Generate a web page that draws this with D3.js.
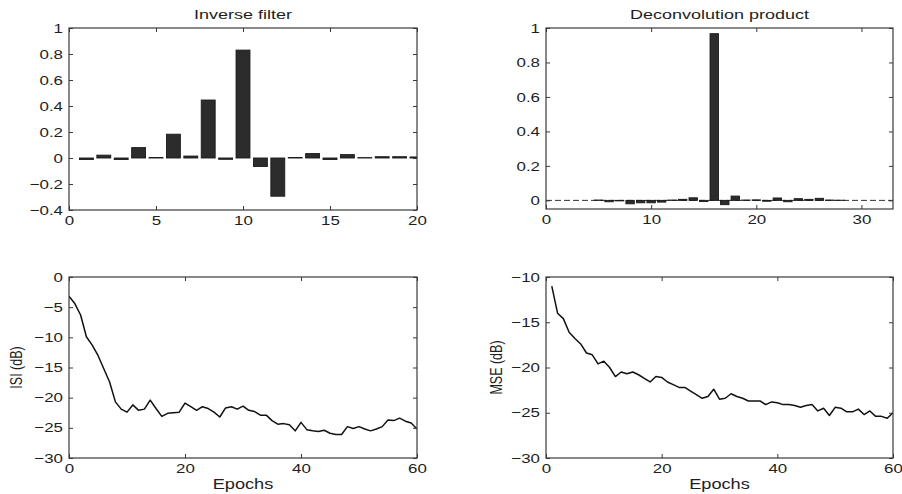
<!DOCTYPE html>
<html>
<head>
<meta charset="utf-8">
<script src="https://cdn.jsdelivr.net/npm/d3@7"></script>
<style>
  body { margin: 0; background: #fff; }
  svg { display: block; font-family: "Liberation Sans", Arial, Helvetica, sans-serif; }
</style>
</head>
<body>
<svg id="fig" width="902" height="494"></svg>
<script>
// ---- Inverse filter taps ----
const filterTaps = [1, 2, 3, 4, 5, 6, 7, 8, 9, 10, 11, 12, 13, 14, 15, 16, 17, 18, 19, 20];
const filterValues = [-0.012, 0.022, -0.012, 0.08, 0.004, 0.183, 0.015, 0.446, -0.01, 0.83,
                      -0.065, -0.294, 0.004, 0.034, -0.012, 0.026, 0.003, 0.01, 0.01, 0.008];

// ---- Deconvolution product (filter * channel) ----
const deconvLags = [1, 2, 3, 4, 5, 6, 7, 8, 9, 10, 11, 12, 13, 14, 15, 16,
                    17, 18, 19, 20, 21, 22, 23, 24, 25, 26, 27, 28, 29, 30, 31, 32];
const deconvValues = [0, 0, 0, 0, 0.002, -0.008, -0.003, -0.02, -0.014, -0.014, -0.01, 0.002,
                      0.006, 0.015, -0.007, 0.967, -0.025, 0.025, 0.002, 0.003, -0.005, 0.014,
                      -0.008, 0.01, 0.006, 0.012, 0.002, 0.001, 0, 0, 0, 0];

// ---- Learning curves ----
const isiStartEpoch = 0;
const isiValues = [-3.2, -4.4, -6.3, -9.9, -11.3, -13.0, -15.2, -17.4, -20.7, -21.9,
                   -22.4, -21.2, -22.1, -21.9, -20.4, -21.8, -23.1, -22.6, -22.5, -22.4,
                   -20.9, -21.5, -22.1, -21.5, -21.8, -22.4, -23.2, -21.7, -21.5, -21.9,
                   -21.4, -22.1, -22.3, -22.9, -22.9, -23.8, -24.4, -24.3, -24.5, -25.5,
                   -24.1, -25.3, -25.5, -25.6, -25.4, -25.9, -26.1, -26.1, -24.8, -25.1,
                   -24.8, -25.2, -25.5, -25.2, -24.8, -23.7, -23.8, -23.4, -23.9, -24.2, -25.2];

const mseStartEpoch = 1;
const mseValues = [-11.0, -14.0, -14.6, -16.1, -16.8, -17.4, -18.4, -18.6, -19.6, -19.3,
                   -20.0, -21.0, -20.5, -20.7, -20.5, -20.8, -21.2, -21.6, -21.0, -21.1,
                   -21.6, -21.9, -22.2, -22.2, -22.6, -23.0, -23.4, -23.2, -22.4, -23.5,
                   -23.4, -22.9, -23.2, -23.4, -23.7, -23.7, -23.7, -24.1, -23.8, -23.9,
                   -24.1, -24.1, -24.2, -24.4, -24.2, -24.1, -24.8, -24.5, -25.3, -24.4,
                   -24.5, -24.9, -24.9, -24.6, -25.2, -24.8, -25.4, -25.4, -25.6, -25.0];

// ---- Tick values ----
const filterXTicks = [0, 5, 10, 15, 20];
const filterYTicks = [-0.4, -0.2, 0, 0.2, 0.4, 0.6, 0.8, 1];
const deconvXTicks = [0, 10, 20, 30];
const deconvYTicks = [0, 0.2, 0.4, 0.6, 0.8, 1];
const epochTicks = [0, 20, 40, 60];
const isiYTicks = [-30, -25, -20, -15, -10, -5, 0];
const mseYTicks = [-30, -25, -20, -15, -10];

const svg = d3.select("#fig");
const INK = "#1e1e1e";
const FRAME = "#3a3a3a";
const WIDEN = 1.3;     // horizontal widening of the axis lettering
const fmt = d3.format("~g");

function widenText(sel, k) {
  sel.each(function () {
    const t = d3.select(this);
    const x = +t.attr("x") || 0;
    t.attr("x", x / k).attr("transform", `scale(${k},1)`);
  });
}

let clipCount = 0;
function makePanel(box, xDomain, yDomain) {
  const x = d3.scaleLinear().domain(xDomain).range([box.left, box.right]);
  const y = d3.scaleLinear().domain(yDomain).range([box.bottom, box.top]);
  const id = "clip" + (clipCount++);
  svg.append("clipPath").attr("id", id)
    .append("rect")
    .attr("x", box.left).attr("y", box.top)
    .attr("width", box.right - box.left).attr("height", box.bottom - box.top);
  const g = svg.append("g");
  const plot = g.append("g").attr("clip-path", `url(#${id})`);
  return { box, x, y, g, plot };
}

function drawAxes(p, xTicks, yTicks) {
  const { box, x, y, g } = p;
  const tick = 4;
  const style = sel => {
    sel.select(".domain").remove();
    sel.selectAll(".tick line").attr("stroke", FRAME).attr("stroke-width", 1);
    sel.selectAll(".tick text").attr("fill", INK).style("font-size", "13px");
  };
  g.append("g").attr("transform", `translate(0,${box.bottom})`)
    .call(d3.axisBottom(x).tickValues(xTicks).tickFormat(fmt).tickSizeInner(-tick).tickSizeOuter(0).tickPadding(5.5))
    .call(style).call(s => widenText(s.selectAll(".tick text"), WIDEN));
  g.append("g").attr("transform", `translate(${box.left},0)`)
    .call(d3.axisLeft(y).tickValues(yTicks).tickFormat(fmt).tickSizeInner(-tick).tickSizeOuter(0).tickPadding(6))
    .call(style).call(s => widenText(s.selectAll(".tick text"), WIDEN));
  g.append("g").attr("transform", `translate(0,${box.top})`)
    .call(d3.axisTop(x).tickValues(xTicks).tickFormat("").tickSizeInner(-tick).tickSizeOuter(0))
    .call(style);
  g.append("g").attr("transform", `translate(${box.right},0)`)
    .call(d3.axisRight(y).tickValues(yTicks).tickFormat("").tickSizeInner(-tick).tickSizeOuter(0))
    .call(style);
  g.append("rect")
    .attr("x", box.left).attr("y", box.top)
    .attr("width", box.right - box.left).attr("height", box.bottom - box.top)
    .attr("fill", "none").attr("stroke", FRAME).attr("stroke-width", 1.2);
}

function title(p, text) {
  const cx = (p.box.left + p.box.right) / 2;
  p.g.append("text")
    .attr("transform", `translate(${cx},18.5) scale(1.5,1)`)
    .attr("text-anchor", "middle").attr("fill", INK)
    .style("font-size", "12px").text(text);
}

function xLabel(p, text) {
  const cx = (p.box.left + p.box.right) / 2;
  p.g.append("text")
    .attr("transform", `translate(${cx},489) scale(${WIDEN},1)`)
    .attr("text-anchor", "middle").attr("fill", INK)
    .style("font-size", "14px").text(text);
}

function yLabel(p, text, xPos) {
  const cy = (p.box.top + p.box.bottom) / 2;
  // rotated; the second scale factor thickens the glyphs horizontally on screen
  p.g.append("text")
    .attr("transform", `translate(${xPos},${cy}) rotate(-90) scale(1,1.25)`)
    .attr("text-anchor", "middle").attr("fill", INK)
    .style("font-size", "12.5px").text(text);
}

function drawBars(p, cats, vals, width) {
  const { x, y, plot } = p;
  plot.selectAll("rect.bar")
    .data(cats.map((c, i) => ({ c, v: vals[i] })).filter(d => d.v !== 0))
    .join("rect").attr("class", "bar")
    .attr("x", d => x(d.c - width / 2))
    .attr("width", d => x(d.c + width / 2) - x(d.c - width / 2))
    .attr("y", d => y(Math.max(0, d.v)))
    .attr("height", d => Math.abs(y(d.v) - y(0)))
    .attr("fill", "#2c2c2c").attr("stroke", "#1a1a1a").attr("stroke-width", 0.9);
}

function drawLine(p, start, vals) {
  const { x, y, plot } = p;
  plot.append("path")
    .datum(vals.map((v, i) => [start + i, v]))
    .attr("fill", "none").attr("stroke", "#111").attr("stroke-width", 1.5)
    .attr("stroke-linejoin", "round")
    .attr("d", d3.line().x(d => x(d[0])).y(d => y(d[1])));
}

// ---- Top left: inverse filter ----
const pInv = makePanel({ left: 69, right: 417, top: 28, bottom: 210 }, [0, 20], [-0.4, 1]);
drawBars(pInv, filterTaps, filterValues, 0.8);
drawAxes(pInv, filterXTicks, filterYTicks);
title(pInv, "Inverse filter");

// ---- Top right: deconvolution product ----
const pDec = makePanel({ left: 546, right: 893, top: 28, bottom: 209 }, [0, 33], [-0.05, 1]);
pDec.plot.append("line")
  .attr("x1", pDec.x(0)).attr("x2", pDec.x(33))
  .attr("y1", pDec.y(0)).attr("y2", pDec.y(0))
  .attr("stroke", "#333").attr("stroke-width", 1).attr("stroke-dasharray", "6,3");
drawBars(pDec, deconvLags, deconvValues, 0.8);
drawAxes(pDec, deconvXTicks, deconvYTicks);
title(pDec, "Deconvolution product");

// ---- Bottom left: ISI ----
const pIsi = makePanel({ left: 69, right: 417, top: 277, bottom: 458 }, [0, 60], [-30, 0]);
drawLine(pIsi, isiStartEpoch, isiValues);
drawAxes(pIsi, epochTicks, isiYTicks);
xLabel(pIsi, "Epochs");
yLabel(pIsi, "ISI (dB)", 22);

// ---- Bottom right: MSE ----
const pMse = makePanel({ left: 546, right: 893, top: 277, bottom: 458 }, [0, 60], [-30, -10]);
drawLine(pMse, mseStartEpoch, mseValues);
drawAxes(pMse, epochTicks, mseYTicks);
xLabel(pMse, "Epochs");
yLabel(pMse, "MSE (dB)", 502);
</script>
</body>
</html>
